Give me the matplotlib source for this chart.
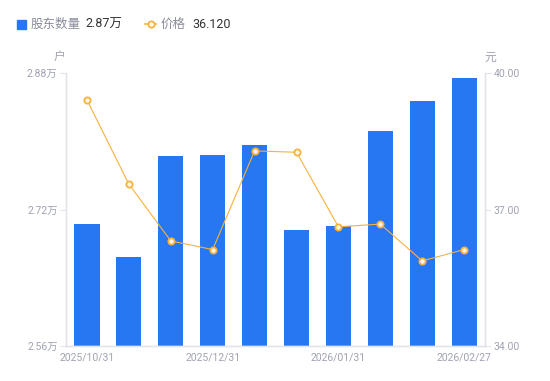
import matplotlib
matplotlib.use("Agg")
import matplotlib.pyplot as plt
import numpy as np

plt.rcParams['font.family'] = ['Roboto', 'Noto Sans CJK SC', 'DejaVu Sans']

dates = ["2025/10/31", "2025/11/14", "2025/11/28", "2025/12/31", "2026/01/09",
         "2026/01/16", "2026/01/31", "2026/02/10", "2026/02/20", "2026/02/27"]
holders = [2.703, 2.664, 2.783, 2.784, 2.796, 2.696, 2.701, 2.812, 2.847, 2.874]  # 万户
price = [39.41, 37.56, 36.31, 36.12, 38.29, 38.26, 36.62, 36.68, 35.87, 36.12]
shown_ticks = [0, 3, 6, 9]

bar_color = "#2776F2"
line_color = "#F7B23B"
axis_color = "#E3E5EA"
label_color = "#A0A2B2"

fig = plt.figure(figsize=(5.5, 3.81), dpi=100)
ax = fig.add_axes([0.12, 0.092, 0.762, 0.716])
ax2 = ax.twinx()

x = np.arange(len(dates))
ax.bar(x, holders, width=0.6, color=bar_color, zorder=2)
ax.set_xlim(-0.5, len(dates) - 0.5)
ax.set_ylim(2.56, 2.88)
ax.set_yticks([2.56, 2.72, 2.88])
ax.set_yticklabels(["2.56万", "2.72万", "2.88万"])
ax.set_xticks(shown_ticks)
ax.set_xticklabels([dates[i] for i in shown_ticks])

ax2.plot(x, price, color=line_color, lw=0.8, marker="o", ms=4.5,
         mfc="#FFF6E6", mec=line_color, mew=1.3, zorder=3)
ax2.set_ylim(34, 40)
ax2.set_yticks([34, 37, 40])
ax2.set_yticklabels(["34.00", "37.00", "40.00"])

for a in (ax, ax2):
    for s in a.spines.values():
        s.set_color(axis_color)
        s.set_linewidth(1)
    a.spines["top"].set_visible(False)
    a.tick_params(colors=label_color, labelsize=7.5, length=4, width=0.8)
    a.tick_params(axis="y", color=axis_color, pad=2)
ax.tick_params(axis="x", length=0, pad=5)
ax2.tick_params(axis="x", length=0)
ax.set_zorder(1)
ax.patch.set_visible(False)
ax2.set_zorder(2)

fig.text(60 / 550, 1 - 57 / 381, "户", color=label_color, fontsize=8.5, ha="center", va="center")
fig.text(490 / 550, 1 - 57 / 381, "元", color=label_color, fontsize=8.5, ha="center", va="center")

# legend header
fig.patches.append(plt.Rectangle((17 / 550, 1 - 29 / 381), 9 / 550, 9 / 381,
                                 transform=fig.transFigure, color=bar_color))
fig.text(31 / 550, 1 - 24 / 381, "股东数量", color="#8A8C9A", fontsize=9, va="center")
fig.text(85 / 550, 1 - 24 / 381, "2.87万", color="#333333", fontsize=9, va="center")
fig.add_artist(plt.Line2D([145 / 550, 156 / 550], [1 - 24 / 381, 1 - 24 / 381],
                          transform=fig.transFigure, color=line_color, lw=1.2))
fig.add_artist(plt.Line2D([150.5 / 550], [1 - 24 / 381], transform=fig.transFigure,
                          marker="o", ms=4.5, mfc="white", mec=line_color, mew=1.3))
fig.text(161 / 550, 1 - 24 / 381, "价格", color="#8A8C9A", fontsize=9, va="center")
fig.text(192 / 550, 1 - 24 / 381, "36.120", color="#333333", fontsize=9, va="center")

fig.savefig("out.png", dpi=100)
